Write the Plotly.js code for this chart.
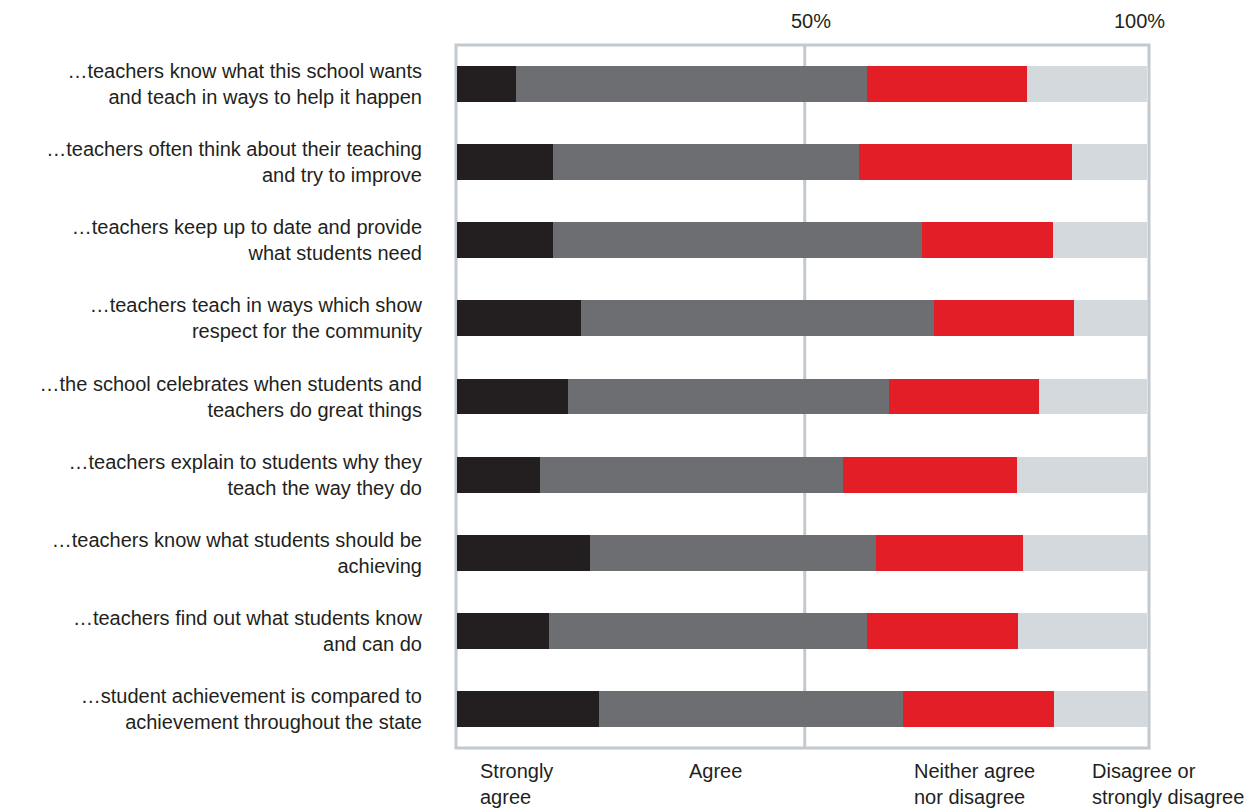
<!DOCTYPE html>
<html>
<head>
<meta charset="utf-8">
<script src="https://cdn.plot.ly/plotly-3.0.1.min.js"></script>
<style>html,body{margin:0;padding:0;background:#fff;}</style>
</head>
<body>
<div id="chart" style="width:1248px;height:808px;"></div>
<script>
var categories = [
  "…teachers know what this school wants<br>and teach in ways to help it happen",
  "…teachers often think about their teaching<br>and try to improve",
  "…teachers keep up to date and provide<br>what students need",
  "…teachers teach in ways which show<br>respect for the community",
  "…the school celebrates when students and<br>teachers do great things",
  "…teachers explain to students why they<br>teach the way they do",
  "…teachers know what students should be<br>achieving",
  "…teachers find out what students know<br>and can do",
  "…student achievement is compared to<br>achievement throughout the state"
];
var stronglyAgree = [8.5, 13.9, 13.9, 18.0, 16.1, 12.0, 19.3, 13.3, 20.6];
var agree         = [50.8, 44.3, 53.4, 51.1, 46.5, 43.9, 41.3, 46.0, 44.0];
var neither       = [23.2, 30.8, 19.0, 20.3, 21.7, 25.2, 21.3, 21.9, 21.9];
var disagree      = [17.4, 10.9, 13.6, 10.6, 15.6, 18.8, 18.1, 18.7, 13.5];
var seriesNames = ["Strongly<br>agree", "Agree", "Neither agree<br>nor disagree", "Disagree or<br>strongly disagree"];
var topTicks = ["50%", "100%"];

var colors = ["#231f20", "#6d6e71", "#e31e26", "#d4d9dd"];
var series = [stronglyAgree, agree, neither, disagree];

var traces = series.map(function (vals, i) {
  return {
    type: "bar",
    orientation: "h",
    x: vals,
    y: categories,
    name: seriesNames[i],
    marker: {color: colors[i], line: {width: 0}},
    hoverinfo: "x+name"
  };
});

var labelFont = {family: "Liberation Sans Narrow, Arial Narrow, Liberation Sans, sans-serif", size: 20, color: "#231f20"};
var legendX = [3.0, 33.3, 65.9, 91.7];
var annotations = seriesNames.map(function (t, i) {
  return {
    text: t, x: legendX[i], xref: "x", xanchor: "left",
    y: -0.014, yref: "paper", yanchor: "top",
    showarrow: false, align: "left", font: labelFont
  };
});
var topX = [51.3, 98.8];
topTicks.forEach(function (t, i) {
  annotations.push({
    text: t, x: topX[i], xref: "x", xanchor: "center",
    y: 1, yref: "paper", yanchor: "bottom", yshift: 11,
    showarrow: false, font: {family: "Liberation Sans, Arial, sans-serif", size: 20, color: "#231f20"}
  });
});

var layout = {
  width: 1248, height: 808,
  margin: {l: 456, r: 99, t: 45, b: 60, pad: 0},
  barmode: "stack",
  bargap: 0.54,
  showlegend: false,
  paper_bgcolor: "#ffffff",
  plot_bgcolor: "#ffffff",
  xaxis: {range: [-0.145, 100.2], showgrid: false, zeroline: false, showticklabels: false, ticks: "", fixedrange: true},
  yaxis: {
    autorange: "reversed", showgrid: false, zeroline: false,
    ticks: "outside", ticklen: 29, tickcolor: "rgba(0,0,0,0)",
    tickfont: {family: "Liberation Sans, Arial, sans-serif", size: 20, color: "#231f20"},
    fixedrange: true
  },
  shapes: [
    {type: "line", xref: "x", yref: "paper", x0: 50.35, x1: 50.35, y0: 0, y1: 1,
     line: {color: "#c3c9cf", width: 3}, layer: "below"},
    {type: "rect", xref: "paper", yref: "paper", x0: 0, x1: 1, y0: 0, y1: 1,
     line: {color: "#c3c9cf", width: 3}, layer: "below"}
  ],
  annotations: annotations
};

Plotly.newPlot("chart", traces, layout, {displayModeBar: false, staticPlot: true});
</script>
</body>
</html>
